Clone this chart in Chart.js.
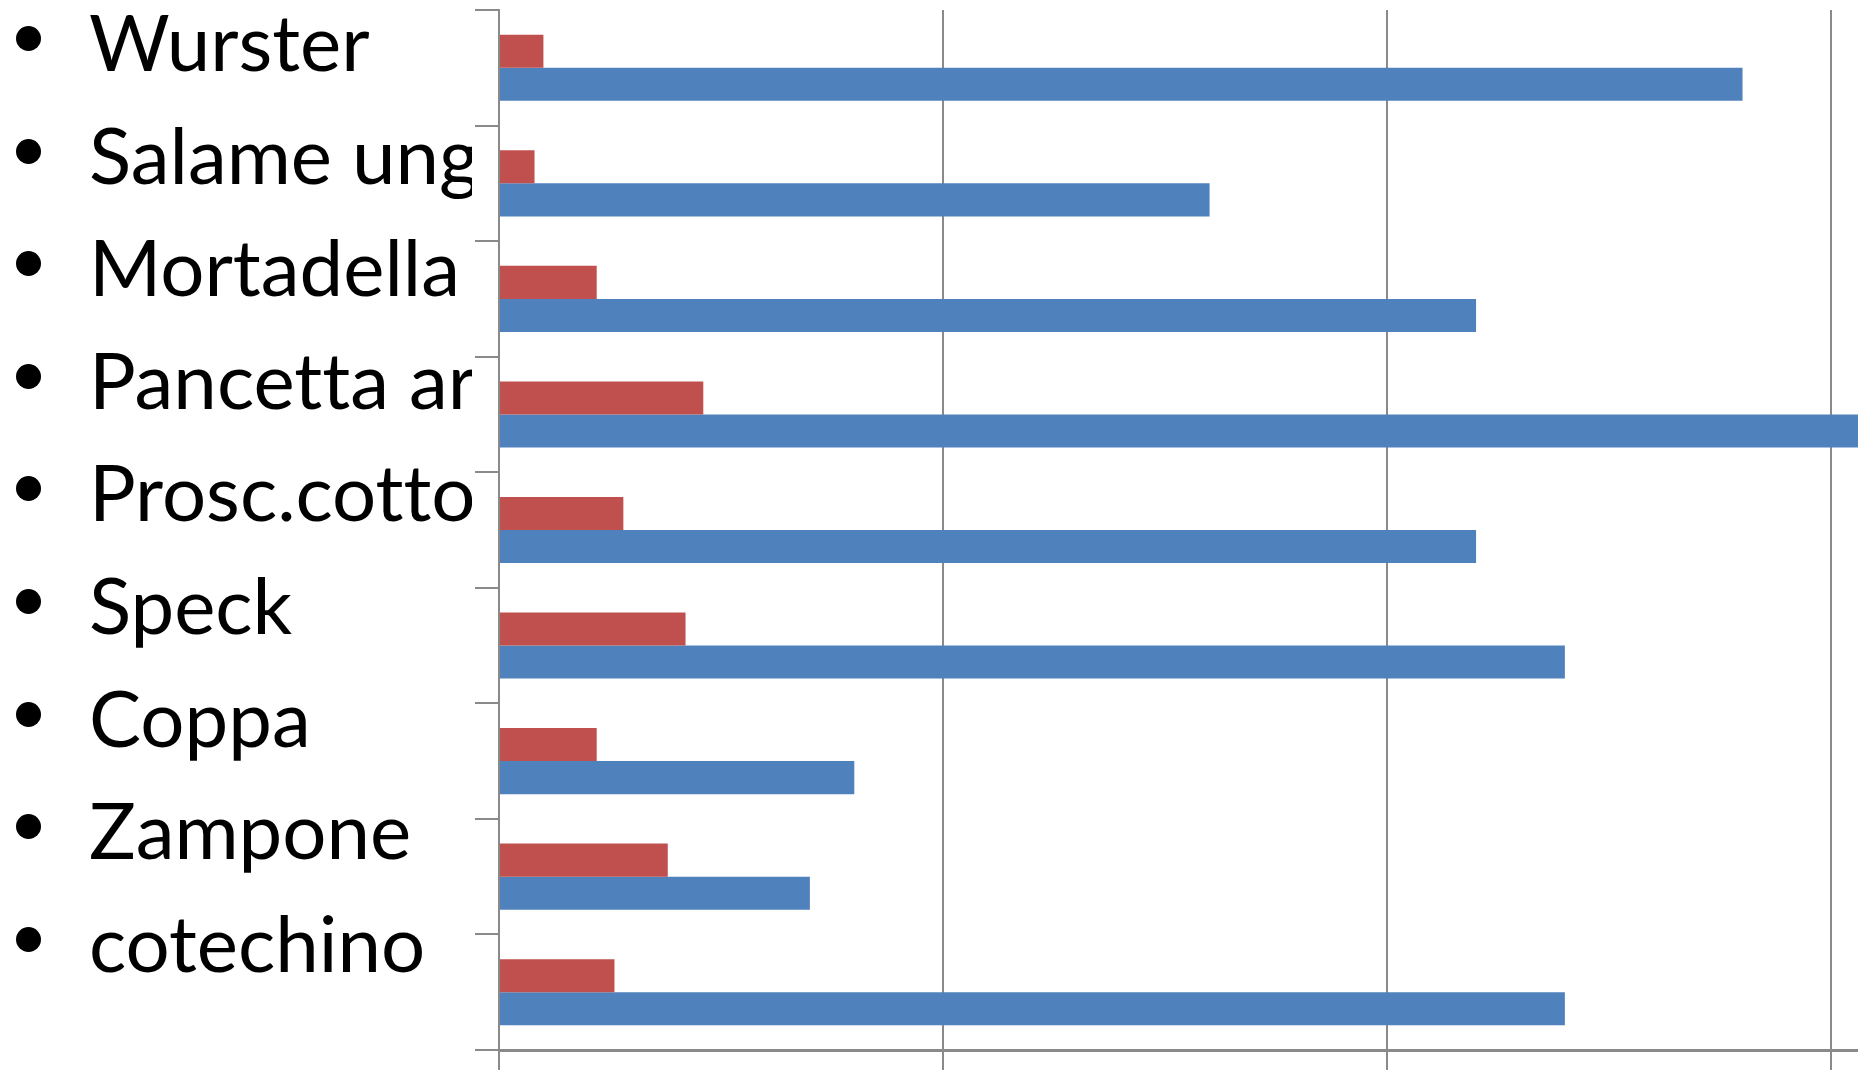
<!DOCTYPE html>
<html>
<head>
<meta charset="utf-8">
<script src="https://cdn.jsdelivr.net/npm/chart.js@4"></script>
<style>
  html, body { margin: 0; padding: 0; background: #fff; overflow: hidden; }
  #wrap { position: relative; width: 1858px; height: 1070px; }
  #myChart { position: absolute; left: 0; top: 0; }
  #labels {
    position: absolute; left: 0; top: -15px; width: 472px; overflow: hidden;
    margin: 0; padding: 0; list-style: none;
    font-family: Lato, "Open Sans", sans-serif; font-size: 78px; color: #000;
    font-variant-ligatures: none;
  }
  #labels li { height: 112.6px; line-height: 112.6px; white-space: nowrap; position: relative; padding-left: 89px; }
  #labels li::before {
    content: ""; position: absolute; left: 16px; top: 41px;
    width: 25px; height: 25px; border-radius: 50%; background: #000;
  }
</style>
</head>
<body>
<div id="wrap">
  <canvas id="myChart" width="1858" height="1070"></canvas>
  <ul id="labels"></ul>
</div>
<script>
// categories as in the slide's bullet list (text box is cut at the axis)
var categories = ['Wurster', 'Salame ungherese', 'Mortadella', 'Pancetta arrotolata', 'Prosc.cotto', 'Speck', 'Coppa', 'Zampone', 'cotechino'];
var redValues = [10, 8, 22, 46, 28, 42, 22, 38, 26];
var blueValues = [280, 160, 220, 320, 220, 240, 80, 70, 240];
var xTicks = [0, 100, 200, 300];

// bullet list
var list = document.getElementById('labels');
categories.forEach(function (c) {
    var li = document.createElement('li');
    li.textContent = c;
    list.appendChild(li);
});

var gridGrey = '#8a8a8a';

var ctx = document.getElementById('myChart').getContext('2d');
new Chart(ctx, {
    type: 'bar',
    data: {
        labels: categories,
        datasets: [{
            label: 'red',
            data: redValues,
            backgroundColor: '#C0504D',
            categoryPercentage: 0.572,
            barPercentage: 1.0
        }, {
            label: 'blue',
            data: blueValues,
            backgroundColor: '#4F81BD',
            categoryPercentage: 0.572,
            barPercentage: 1.0
        }]
    },
    options: {
        indexAxis: 'y',
        responsive: false,
        animation: false,
        layout: { padding: { top: 10, right: 0, left: 0, bottom: 0 } },
        plugins: { legend: { display: false }, tooltip: { enabled: false } },
        scales: {
            x: {
                min: 0,
                max: 306,
                afterBuildTicks: function (scale) {
                    scale.ticks = xTicks.map(function (v) { return { value: v }; });
                },
                afterFit: function (scale) { scale.height = 20; },
                ticks: { display: false },
                grid: { color: gridGrey, lineWidth: 2, drawTicks: true, tickLength: 20 },
                border: { color: gridGrey, width: 3 }
            },
            y: {
                afterFit: function (scale) { scale.width = 499; },
                ticks: { display: false },
                grid: { drawOnChartArea: false, drawTicks: true, tickLength: 24, color: gridGrey, lineWidth: 2, offset: true },
                border: { color: gridGrey, width: 2 }
            }
        }
    }
});
</script>
</body>
</html>
